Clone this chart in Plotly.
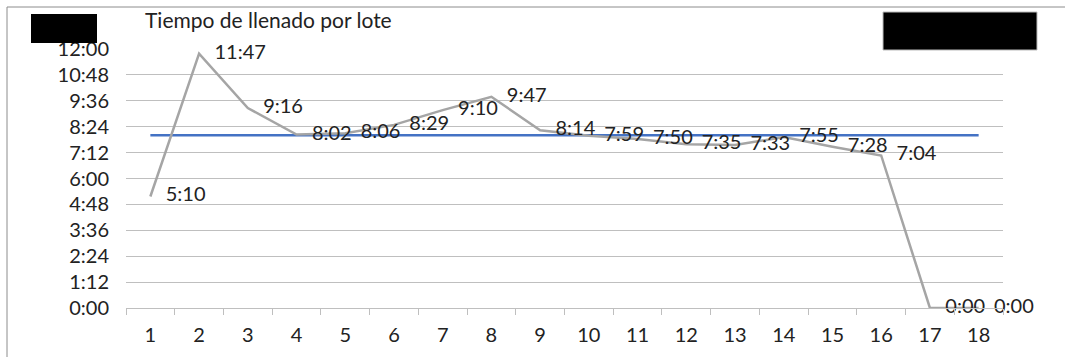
import plotly.graph_objects as go

# Fill time per batch (H:MM) and the 8:00 reference line
lotes = list(range(1, 19))
tiempos = ["5:10", "11:47", "9:16", "8:02", "8:06", "8:29", "9:10", "9:47", "8:14",
           "7:59", "7:50", "7:35", "7:33", "7:55", "7:28", "7:04", "0:00", "0:00"]
objetivo = ["8:00", "8:00", "8:00", "8:00", "8:00", "8:00", "8:00", "8:00", "8:00",
            "8:00", "8:00", "8:00", "8:00", "8:00", "8:00", "8:00", "8:00", "8:00"]
ticks_y = ["0:00", "1:12", "2:24", "3:36", "4:48", "6:00", "7:12", "8:24",
           "9:36", "10:48", "12:00"]
titulo = "Tiempo de llenado por lote"


def a_minutos(s):
    h, m = s.split(":")
    return int(h) * 60 + int(m)


W, H = 1065, 357
L, R, T, B = 126, 62, 49, 49
FONT = "Lato"
TXT = "#222222"

fig = go.Figure()

fig.add_trace(go.Scatter(
    x=lotes, y=[a_minutos(v) for v in objetivo], mode="lines",
    line=dict(color="#4472C4", width=2.5), hoverinfo="skip", showlegend=False,
))
fig.add_trace(go.Scatter(
    x=lotes, y=[a_minutos(v) for v in tiempos], mode="lines+markers+text",
    line=dict(color="#A5A5A5", width=2.5),
    marker=dict(size=23, color="rgba(0,0,0,0)"),
    text=tiempos, textposition="middle right",
    textfont=dict(family=FONT, size=20, color=TXT),
    showlegend=False, cliponaxis=False,
))


def px_x(p):
    return (p - L) / (W - L - R)


def px_y(p):
    return 1 - (p - T) / (H - T - B)


shapes = [
    # chart frame (top and left edges)
    dict(type="line", xref="paper", yref="paper", x0=px_x(7), x1=px_x(W + 5),
         y0=px_y(7), y1=px_y(7), line=dict(color="#8C8C8C", width=1), layer="above"),
    dict(type="line", xref="paper", yref="paper", x0=px_x(7), x1=px_x(7),
         y0=px_y(7), y1=px_y(H + 5), line=dict(color="#8C8C8C", width=1), layer="above"),
    # solid black boxes in the header
    dict(type="rect", xref="paper", yref="paper", x0=px_x(31), x1=px_x(97),
         y0=px_y(14), y1=px_y(43), fillcolor="black", line=dict(width=0), layer="above"),
    dict(type="rect", xref="paper", yref="paper", x0=px_x(883), x1=px_x(1037),
         y0=px_y(12), y1=px_y(50), fillcolor="black", line=dict(color="#BBBBBB", width=1),
         layer="above"),
]

fig.update_layout(
    width=W, height=H,
    margin=dict(l=L, r=R, t=T, b=B, autoexpand=False),
    paper_bgcolor="white", plot_bgcolor="white",
    font=dict(family=FONT, size=20, color=TXT),
    title=dict(text=titulo, x=145 / W, xanchor="left", xref="container",
               y=1 - 21 / H, yanchor="middle", yref="container",
               font=dict(family=FONT, size=21, color=TXT)),
    shapes=shapes,
)

fig.update_xaxes(
    range=[0.5, 18.5], tickmode="array", tickvals=lotes,
    ticktext=[str(v) for v in lotes], ticks="", ticklabelstandoff=9,
    showgrid=False, showline=True, linecolor="#BFBFBF", linewidth=1,
    zeroline=False, automargin=False,
    minor=dict(ticks="outside", tickmode="linear", tick0=0.5, dtick=1,
               ticklen=6, tickcolor="#BFBFBF", showgrid=False),
    tickfont=dict(family=FONT, size=20, color=TXT),
)
fig.update_yaxes(
    range=[0, 720], tickmode="array", tickvals=[a_minutos(v) for v in ticks_y],
    ticktext=ticks_y, ticks="", ticklabelstandoff=16,
    showgrid=True, gridcolor="#BFBFBF", gridwidth=1,
    showline=False, zeroline=False, automargin=False,
    tickfont=dict(family=FONT, size=20, color=TXT),
)

fig.write_html("out.html")
